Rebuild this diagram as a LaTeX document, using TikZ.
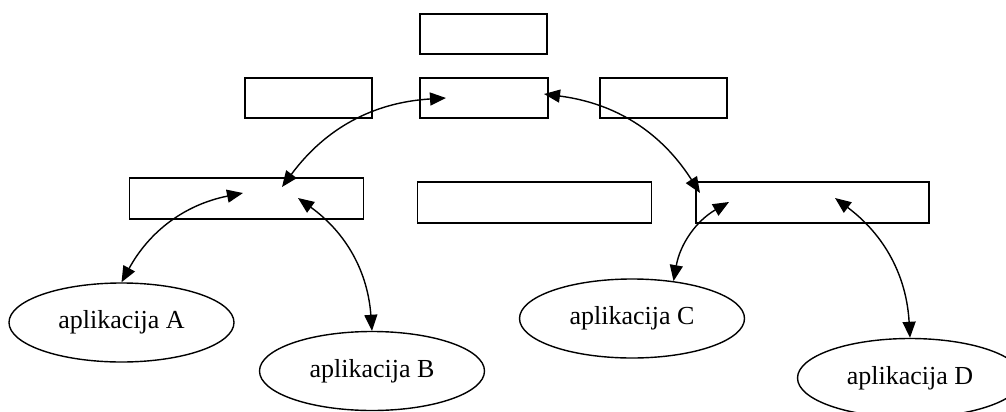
\documentclass[tikz,border=0pt]{standalone}
\usepackage{fontspec}
\setmainfont{Liberation Serif}
\usetikzlibrary{arrows.meta,shapes.geometric}

\begin{document}
\begin{tikzpicture}[x=1pt, y=-1pt, line width=1.4pt,
    box/.style={draw, rectangle, minimum width=127pt, minimum height=40pt, inner sep=0pt},
    widebox/.style={box, minimum width=234pt, minimum height=41pt},
    app/.style={draw, ellipse, minimum width=225pt, minimum height=79pt, inner sep=0pt,
                font=\fontsize{26}{30}\selectfont},
    link/.style={{Triangle[length=16pt,width=13pt]}-{Triangle[length=16pt,width=13pt]}}]
      \useasboundingbox (0,0) rectangle (1006,412);
      \clip (0,0) rectangle (1006,412);
      % upper part
      \node[box] (top) at (483.5,34) {};
      \node[box] (ml) at (308.5,98) {};
      \node[box, minimum width=128pt] (mc) at (484,98) {};
      \node[box] (mr) at (663.5,98) {};
      % lower part
      \node[widebox] (bl) at (246.5,198.5) {};
      \node[widebox] (bc) at (534.5,202.5) {};
      \node[widebox, minimum width=233pt] (br) at (812.5,202.5) {};
      % applications
      \node[app] (A) at (121.5,322.5) {aplikacija A};
      \node[app] (B) at (372,371) {aplikacija B};
      \node[app] (C) at (632,318.5) {aplikacija C};
      \node[app] (D) at (910,378) {aplikacija D};
      % arrow ends inside the boxes
      \coordinate (mcL) at (446,98);
      \coordinate (mcR) at (544,94);
      \coordinate (blT) at (282,187);
      \coordinate (blA) at (243,193);
      \coordinate (blB) at (298,198);
      \coordinate (brT) at (700,193);
      \coordinate (brC) at (729,202);
      \coordinate (brD) at (835,198);
      \draw[link] (mcL) to[bend right=25] (blT);
      \draw[link] (mcR) to[bend left=25] (brT);
      \draw[link] (blA) to[bend right=25] (A.north);
      \draw[link] (blB) to[bend left=25] (B.north);
      \draw[link] (brC) to[bend right=25] (C.42);
      \draw[link] (brD) to[bend left=25] (D.north);
\end{tikzpicture}
\end{document}
